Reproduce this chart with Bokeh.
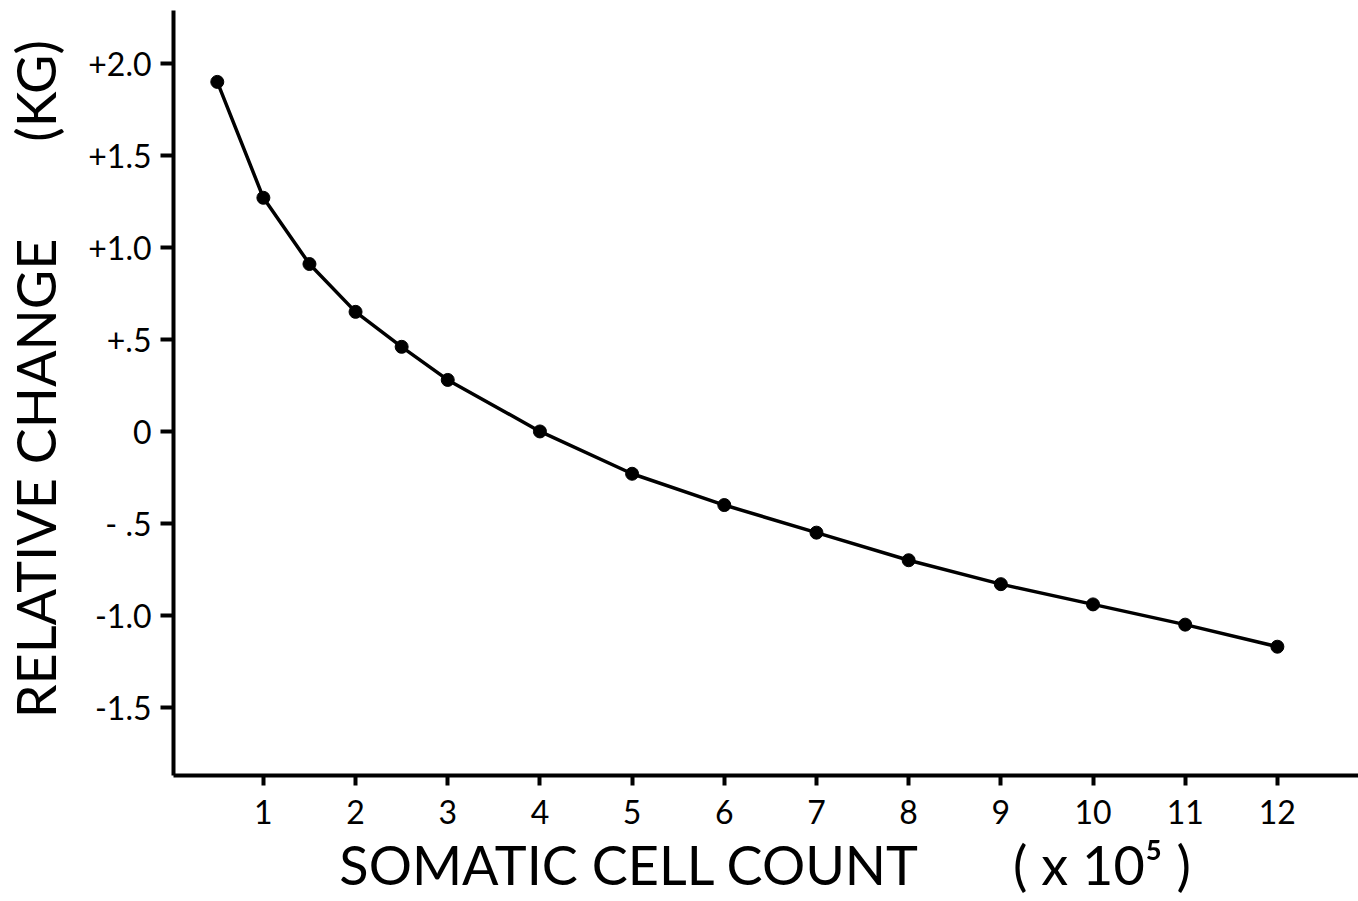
from bokeh.plotting import figure
from bokeh.models import FixedTicker, Range1d
from bokeh.embed import file_html
from bokeh.resources import INLINE

# Data
cell_count = [0.5, 1, 1.5, 2, 2.5, 3, 4, 5, 6, 7, 8, 9, 10, 11, 12]
rel_change = [1.90, 1.27, 0.91, 0.65, 0.46, 0.28, 0.0, -0.23, -0.40, -0.55,
              -0.70, -0.83, -0.94, -1.05, -1.17]

x_ticks = list(range(1, 13))
y_ticks = [2.0, 1.5, 1.0, 0.5, 0.0, -0.5, -1.0, -1.5]
y_tick_labels = ["+2.0", "+1.5", "+1.0", "+.5", "0", "- .5", "-1.0", "-1.5"]

NB = "\u00a0"
x_title = "SOMATIC CELL COUNT" + NB * 7 + "( x 10\u2075" + NB + ")"
y_title = NB * 2 + "RELATIVE CHANGE" + NB * 7 + "(KG)"

FONT = "Lato"

p = figure(width=1358, height=901, output_backend="svg", toolbar_location=None,
           x_range=Range1d(0.025, 12.88), y_range=Range1d(-1.87, 2.288),
           min_border_left=172, min_border_right=0, min_border_top=10,
           min_border_bottom=126)
p.outline_line_color = None
p.grid.grid_line_color = None
p.background_fill_color = "white"
p.border_fill_color = "white"

p.line(cell_count, rel_change, line_color="black", line_width=3.5)
p.scatter(cell_count, rel_change, size=13, color="black")

# x axis
xa = p.xaxis[0]
xa.ticker = FixedTicker(ticks=x_ticks)
xa.axis_line_width = 4
xa.axis_line_color = "black"
xa.major_tick_line_width = 4
xa.major_tick_in = 0
xa.major_tick_out = 10
xa.minor_tick_line_color = None
xa.major_label_text_font = FONT
xa.major_label_text_font_size = "32px"
xa.major_label_text_color = "black"
xa.major_label_standoff = 14
xa.axis_label = x_title
xa.axis_label_text_font = FONT
xa.axis_label_text_font_size = "54px"
xa.axis_label_text_font_style = "normal"
xa.axis_label_text_color = "black"
xa.axis_label_standoff = 5

# y axis
ya = p.yaxis[0]
ya.ticker = FixedTicker(ticks=y_ticks)
ya.major_label_overrides = {t: l for t, l in zip(y_ticks, y_tick_labels)}
ya.axis_line_width = 4
ya.axis_line_color = "black"
ya.major_tick_line_width = 4
ya.major_tick_in = 0
ya.major_tick_out = 13
ya.minor_tick_line_color = None
ya.major_label_text_font = FONT
ya.major_label_text_font_size = "32px"
ya.major_label_text_color = "black"
ya.major_label_standoff = 9
ya.axis_label = y_title
ya.axis_label_text_font = FONT
ya.axis_label_text_font_size = "54px"
ya.axis_label_text_font_style = "normal"
ya.axis_label_text_color = "black"
ya.axis_label_standoff = 17

open("out.html", "w").write(file_html(p, INLINE))
